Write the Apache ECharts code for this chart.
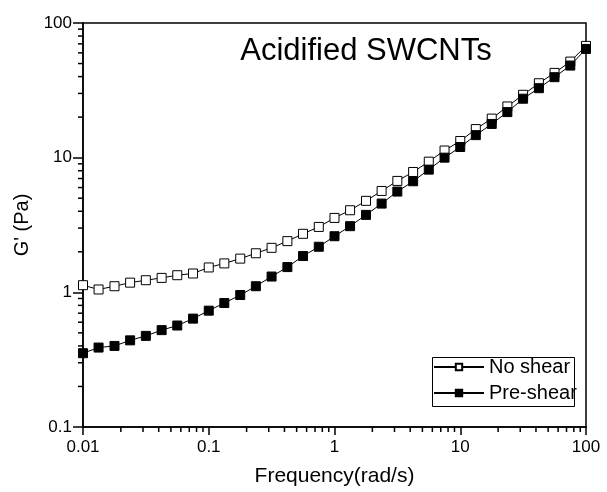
<!DOCTYPE html>
<html>
<head>
<meta charset="utf-8">
<script src="https://cdn.jsdelivr.net/npm/echarts@6/dist/echarts.min.js"></script>
<style>html,body{margin:0;padding:0;background:#fff}#c{width:607px;height:492px}</style>
</head>
<body>
<div id="c"></div>
<script>
var frequency = [0.01, 0.0133, 0.0178, 0.0237, 0.0316, 0.0422, 0.0562, 0.075, 0.1, 0.133, 0.178, 0.237, 0.316, 0.422, 0.562, 0.75, 1, 1.33, 1.78, 2.37, 3.16, 4.22, 5.62, 7.5, 10, 13.3, 17.8, 23.7, 31.6, 42.2, 56.2, 75, 100];
var noShear = [1.13, 1.05, 1.11, 1.18, 1.23, 1.28, 1.34, 1.38, 1.53, 1.64, 1.78, 1.95, 2.14, 2.40, 2.72, 3.06, 3.57, 4.07, 4.78, 5.66, 6.72, 7.83, 9.34, 11.3, 13.3, 16.3, 19.5, 24.0, 29.3, 35.7, 42.6, 51.7, 67.6];
var preShear = [0.353, 0.389, 0.40, 0.44, 0.475, 0.524, 0.567, 0.638, 0.731, 0.833, 0.955, 1.11, 1.31, 1.54, 1.86, 2.18, 2.61, 3.10, 3.76, 4.56, 5.60, 6.68, 8.15, 10.0, 12.0, 14.7, 17.8, 21.8, 27.4, 32.8, 39.6, 48.3, 64.2];
var xTickLabels = ['0.01', '0.1', '1', '10', '100'];
var yTickLabels = ['0.1', '1', '10', '100'];
var seriesNames = ['No shear', 'Pre-shear'];
var titleText = 'Acidified SWCNTs';

var X_MIN = 0.01, X_MAX = 100, Y_MIN = 0.1, Y_MAX = 100;

function fmt(v, labels) {
  for (var i = 0; i < labels.length; i++) {
    if (Math.abs(Math.log10(v) - Math.log10(parseFloat(labels[i]))) < 1e-6) return labels[i];
  }
  return '';
}
// minor tick positions (2..9 within each decade)
function minorTicks(lo, hi) {
  var out = [];
  for (var d = Math.round(Math.log10(lo)); d < Math.round(Math.log10(hi)); d++) {
    for (var m = 2; m <= 9; m++) out.push(m * Math.pow(10, d));
  }
  return out;
}
var xMinor = minorTicks(X_MIN, X_MAX).map(function (v) { return [v, 'x']; });
var yMinor = minorTicks(Y_MIN, Y_MAX).map(function (v) { return [v, 'y']; });

var chart = echarts.init(document.getElementById('c'));
var font = 'Liberation Sans, Arial, sans-serif';

chart.setOption({
  animation: false,
  backgroundColor: '#fff',
  grid: { left: 83, right: 21, top: 23, bottom: 64, show: true, borderColor: '#000', borderWidth: 1.5, backgroundColor: 'transparent' },
  title: {
    text: titleText, left: 361, top: 31, textAlign: 'center',
    textStyle: { fontFamily: font, fontSize: 31, fontWeight: 'normal', color: '#000' }
  },
  legend: {
    orient: 'vertical', left: 433, top: 355, padding: 0, itemGap: 2,
    itemWidth: 50, itemHeight: 8,
    data: seriesNames,
    textStyle: { fontFamily: font, fontSize: 20, color: '#000', lineHeight: 24 }
  },
  graphic: [{
    type: 'rect', shape: { x: 432.5, y: 357.5, width: 142, height: 49 },
    style: { fill: 'none', stroke: '#000', lineWidth: 1 }, z: 10
  }],
  xAxis: {
    type: 'log', logBase: 10, min: X_MIN, max: X_MAX,
    name: 'Frequency(rad/s)', nameLocation: 'middle', nameGap: 39,
    nameTextStyle: { fontFamily: font, fontSize: 21, color: '#000' },
    axisLine: { show: true, lineStyle: { color: '#000', width: 1.5 } },
    axisTick: { show: true, inside: false, length: 8, lineStyle: { color: '#000', width: 1.5 } },
    axisLabel: { margin: 12, fontFamily: font, fontSize: 17, color: '#000', formatter: function (v) { return fmt(v, xTickLabels); } },
    splitLine: { show: false }
  },
  yAxis: {
    type: 'log', logBase: 10, min: Y_MIN, max: Y_MAX,
    name: "G' (Pa)", nameLocation: 'middle', nameGap: 48,
    nameTextStyle: { fontFamily: font, fontSize: 20, color: '#000' },
    axisLine: { show: true, lineStyle: { color: '#000', width: 1.5 } },
    axisTick: { show: true, inside: false, length: 10, lineStyle: { color: '#000', width: 1.5 } },
    axisLabel: { margin: 11, fontFamily: font, fontSize: 17, color: '#000', formatter: function (v) { return fmt(v, yTickLabels); } },
    splitLine: { show: false }
  },
  series: [
    {
      name: seriesNames[0], type: 'line',
      data: frequency.map(function (f, i) { return [f, noShear[i]]; }),
      symbol: 'rect', symbolSize: 9,
      lineStyle: { color: '#000', width: 1 },
      itemStyle: { color: '#fff', borderColor: '#000', borderWidth: 1 },
      z: 3
    },
    {
      name: seriesNames[1], type: 'line',
      data: frequency.map(function (f, i) { return [f, preShear[i]]; }),
      symbol: 'rect', symbolSize: 9,
      lineStyle: { color: '#000', width: 1 },
      itemStyle: { color: '#000', borderColor: '#000', borderWidth: 1 },
      z: 4
    },
    {
      type: 'custom', silent: true, clip: false, z: 5,
      data: xMinor.concat(yMinor),
      encode: { x: -1, y: -1 },
      renderItem: function (params, api) {
        var v = api.value(0);
        var axis = xMinor.length > params.dataIndex ? 'x' : 'y';
        var p, shape;
        if (axis === 'x') {
          p = api.coord([v, Y_MIN]);
          shape = { x1: p[0], y1: p[1], x2: p[0], y2: p[1] + 5 };
        } else {
          p = api.coord([X_MIN, v]);
          shape = { x1: p[0], y1: p[1], x2: p[0] - 5, y2: p[1] };
        }
        return { type: 'line', shape: shape, style: { stroke: '#000', lineWidth: 1.5 } };
      }
    }
  ]
});
</script>
</body>
</html>
